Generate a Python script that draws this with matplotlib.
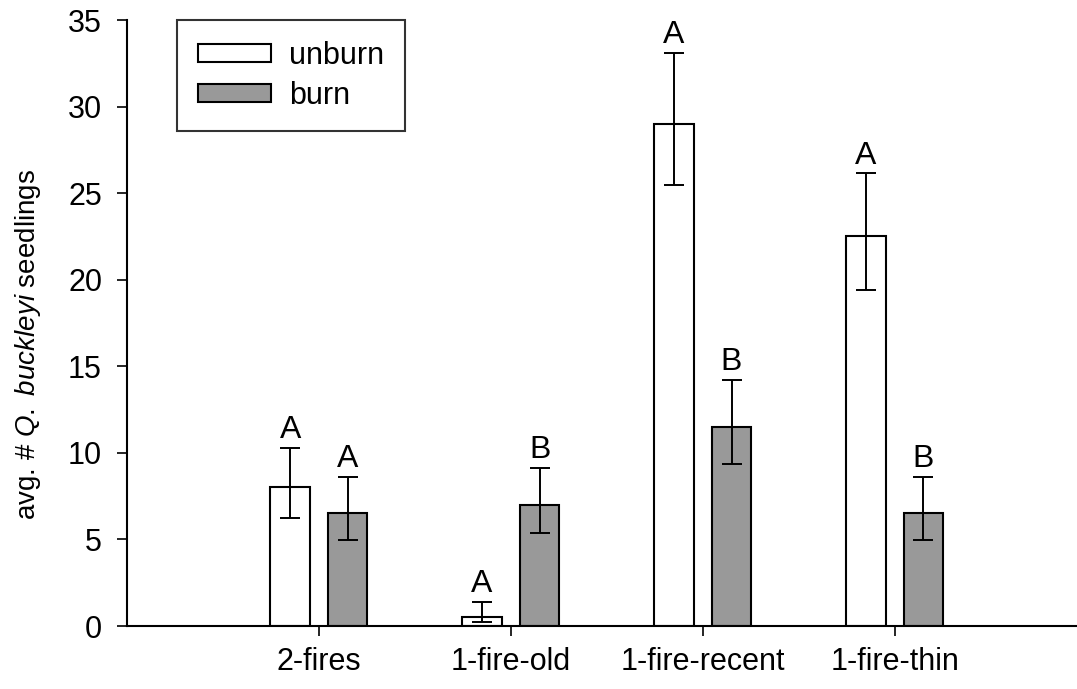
import matplotlib.pyplot as plt
import numpy as np

plt.rcParams['font.family'] = ['Liberation Sans', 'DejaVu Sans']
plt.rcParams['mathtext.fontset'] = 'custom'
plt.rcParams['mathtext.rm'] = 'Liberation Sans'
plt.rcParams['mathtext.it'] = 'Liberation Sans:italic'

# Site treatments and mean seedling counts
sites = ["2-fires", "1-fire-old", "1-fire-recent", "1-fire-thin"]

unburn_mean = [8.0, 0.5, 29.0, 22.5]
unburn_low = [6.25, 0.23, 25.45, 19.4]
unburn_high = [10.3, 1.4, 33.1, 26.15]
unburn_letters = ["A", "A", "A", "A"]

burn_mean = [6.5, 7.0, 11.5, 6.5]
burn_low = [4.97, 5.4, 9.35, 4.97]
burn_high = [8.6, 9.15, 14.2, 8.6]
burn_letters = ["A", "B", "B", "B"]

fig = plt.figure(figsize=(10.77, 6.89), dpi=100)
ax = fig.add_axes([127 / 1077, 63 / 689, 950 / 1077, 606 / 689])

x = np.arange(1, len(sites) + 1)
width = 0.205
offset = 0.15

groups = [
    ("unburn", "white", unburn_mean, unburn_low, unburn_high, unburn_letters, -offset),
    ("burn", "#999999", burn_mean, burn_low, burn_high, burn_letters, offset),
]

for name, color, mean, low, high, letters, dx in groups:
    mean = np.array(mean)
    err = [mean - np.array(low), np.array(high) - mean]
    ax.bar(x + dx, mean, width, color=color, edgecolor="black",
           linewidth=1.5, label=name, zorder=2)
    ax.errorbar(x + dx, mean, yerr=err, fmt="none", ecolor="black",
                elinewidth=1.4, capsize=7, capthick=1.4, zorder=3)
    # significance letters sit just above the upper cap
    for xi, top, letter in zip(x + dx, high, letters):
        ax.annotate(letter, (xi, top), xytext=(0, 7), textcoords="offset points",
                    ha="center", va="baseline", fontsize=23, annotation_clip=False)

ax.set_xlim(0, 4.95)
ax.set_ylim(0, 35)
ax.set_yticks(np.arange(0, 36, 5))
ax.set_xticks(x)
ax.set_xticklabels(sites)

ax.spines["top"].set_visible(False)
ax.spines["right"].set_visible(False)
ax.spines["left"].set_linewidth(1.5)
ax.spines["bottom"].set_linewidth(1.5)
ax.tick_params(axis="y", direction="out", length=7, width=1.2, labelsize=22, pad=11)
ax.tick_params(axis="x", direction="out", length=7, width=1.2, labelsize=22, pad=8)

ax.set_ylabel(r"avg. # $\it{Q.\ buckleyi}$ seedlings", fontsize=20)
ax.yaxis.set_label_coords(-0.088, 0.464)

leg = ax.legend(loc="upper left", bbox_to_anchor=(0.0526, 1.0), borderaxespad=0,
                fontsize=22, frameon=True, fancybox=False, edgecolor="black",
                handlelength=2.4, handleheight=0.55, handletextpad=0.6,
                labelspacing=0.32, borderpad=0.68)
leg.get_frame().set_linewidth(1.5)

fig.savefig("out.png", dpi=100)
